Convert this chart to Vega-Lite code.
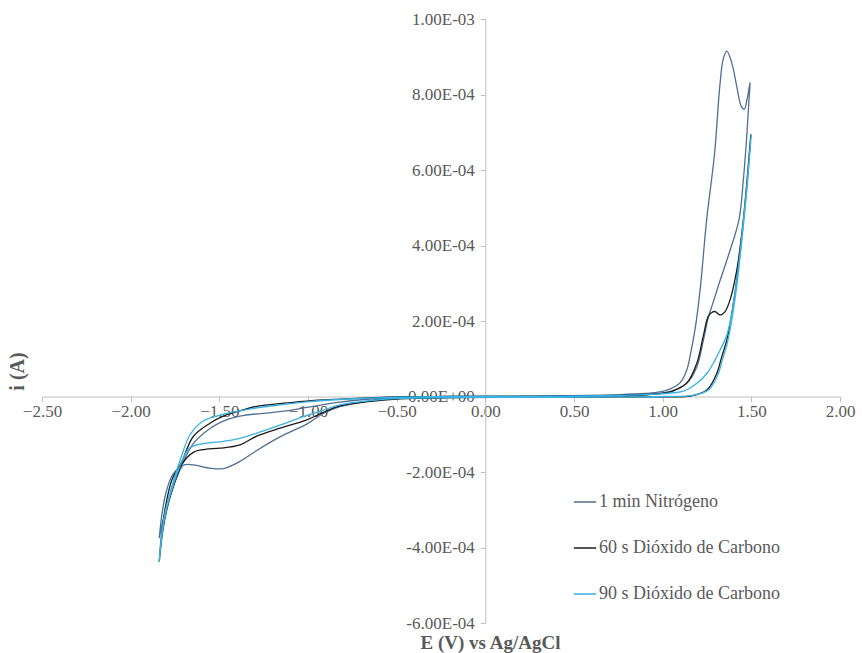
{
  "$schema": "https://vega.github.io/schema/vega-lite/v6.json",
  "width": 798,
  "height": 604,
  "autosize": {"type": "none"},
  "padding": {"left": 42, "top": 19, "right": 22, "bottom": 30},
  "background": "white",
  "config": {
    "view": {"stroke": null},
    "font": "Times New Roman"
  },
  "datasets": {
    "cv": [
      {"s": "1 min Nitrógeno", "k": 1, "E": -1.839, "i": -3.75},
      {"s": "1 min Nitrógeno", "k": 2, "E": -1.823, "i": -3.10},
      {"s": "1 min Nitrógeno", "k": 3, "E": -1.801, "i": -2.55},
      {"s": "1 min Nitrógeno", "k": 4, "E": -1.767, "i": -2.10},
      {"s": "1 min Nitrógeno", "k": 5, "E": -1.711, "i": -1.78},
      {"s": "1 min Nitrógeno", "k": 6, "E": -1.647, "i": -1.25},
      {"s": "1 min Nitrógeno", "k": 7, "E": -1.553, "i": -0.85},
      {"s": "1 min Nitrógeno", "k": 8, "E": -1.478, "i": -0.65},
      {"s": "1 min Nitrógeno", "k": 9, "E": -1.384, "i": -0.52},
      {"s": "1 min Nitrógeno", "k": 10, "E": -1.158, "i": -0.40},
      {"s": "1 min Nitrógeno", "k": 11, "E": -1.007, "i": -0.29},
      {"s": "1 min Nitrógeno", "k": 12, "E": -0.820, "i": -0.15},
      {"s": "1 min Nitrógeno", "k": 13, "E": -0.632, "i": -0.06},
      {"s": "1 min Nitrógeno", "k": 14, "E": -0.481, "i": -0.02},
      {"s": "1 min Nitrógeno", "k": 15, "E": -0.199, "i": 0.00},
      {"s": "1 min Nitrógeno", "k": 16, "E": 0.083, "i": 0.01},
      {"s": "1 min Nitrógeno", "k": 17, "E": 0.421, "i": 0.02},
      {"s": "1 min Nitrógeno", "k": 18, "E": 0.760, "i": 0.05},
      {"s": "1 min Nitrógeno", "k": 19, "E": 0.901, "i": 0.08},
      {"s": "1 min Nitrógeno", "k": 20, "E": 0.985, "i": 0.12},
      {"s": "1 min Nitrógeno", "k": 21, "E": 1.042, "i": 0.20},
      {"s": "1 min Nitrógeno", "k": 22, "E": 1.098, "i": 0.36},
      {"s": "1 min Nitrógeno", "k": 23, "E": 1.136, "i": 0.70},
      {"s": "1 min Nitrógeno", "k": 24, "E": 1.158, "i": 1.15},
      {"s": "1 min Nitrógeno", "k": 25, "E": 1.185, "i": 1.85},
      {"s": "1 min Nitrógeno", "k": 26, "E": 1.213, "i": 2.91},
      {"s": "1 min Nitrógeno", "k": 27, "E": 1.248, "i": 4.68},
      {"s": "1 min Nitrógeno", "k": 28, "E": 1.293, "i": 6.45},
      {"s": "1 min Nitrógeno", "k": 29, "E": 1.322, "i": 8.21},
      {"s": "1 min Nitrógeno", "k": 30, "E": 1.342, "i": 8.95},
      {"s": "1 min Nitrógeno", "k": 31, "E": 1.362, "i": 9.15},
      {"s": "1 min Nitrógeno", "k": 32, "E": 1.390, "i": 8.83},
      {"s": "1 min Nitrógeno", "k": 33, "E": 1.418, "i": 8.21},
      {"s": "1 min Nitrógeno", "k": 34, "E": 1.442, "i": 7.70},
      {"s": "1 min Nitrógeno", "k": 35, "E": 1.460, "i": 7.61},
      {"s": "1 min Nitrógeno", "k": 36, "E": 1.477, "i": 7.90},
      {"s": "1 min Nitrógeno", "k": 37, "E": 1.493, "i": 8.32},
      {"s": "1 min Nitrógeno", "k": 38, "E": 1.486, "i": 7.80},
      {"s": "1 min Nitrógeno", "k": 39, "E": 1.474, "i": 6.88},
      {"s": "1 min Nitrógeno", "k": 40, "E": 1.455, "i": 5.74},
      {"s": "1 min Nitrógeno", "k": 41, "E": 1.430, "i": 4.68},
      {"s": "1 min Nitrógeno", "k": 42, "E": 1.375, "i": 3.80},
      {"s": "1 min Nitrógeno", "k": 43, "E": 1.318, "i": 2.99},
      {"s": "1 min Nitrógeno", "k": 44, "E": 1.277, "i": 2.38},
      {"s": "1 min Nitrógeno", "k": 45, "E": 1.258, "i": 2.11},
      {"s": "1 min Nitrógeno", "k": 46, "E": 1.230, "i": 1.50},
      {"s": "1 min Nitrógeno", "k": 47, "E": 1.193, "i": 0.79},
      {"s": "1 min Nitrógeno", "k": 48, "E": 1.136, "i": 0.35},
      {"s": "1 min Nitrógeno", "k": 49, "E": 1.042, "i": 0.13},
      {"s": "1 min Nitrógeno", "k": 50, "E": 0.901, "i": 0.04},
      {"s": "1 min Nitrógeno", "k": 51, "E": 0.760, "i": 0.01},
      {"s": "1 min Nitrógeno", "k": 52, "E": 0.421, "i": -0.01},
      {"s": "1 min Nitrógeno", "k": 53, "E": 0.083, "i": -0.02},
      {"s": "1 min Nitrógeno", "k": 54, "E": -0.199, "i": -0.03},
      {"s": "1 min Nitrógeno", "k": 55, "E": -0.481, "i": -0.05},
      {"s": "1 min Nitrógeno", "k": 56, "E": -0.632, "i": -0.10},
      {"s": "1 min Nitrógeno", "k": 57, "E": -0.820, "i": -0.27},
      {"s": "1 min Nitrógeno", "k": 58, "E": -0.914, "i": -0.45},
      {"s": "1 min Nitrógeno", "k": 59, "E": -1.007, "i": -0.73},
      {"s": "1 min Nitrógeno", "k": 60, "E": -1.158, "i": -1.07},
      {"s": "1 min Nitrógeno", "k": 61, "E": -1.289, "i": -1.43},
      {"s": "1 min Nitrógeno", "k": 62, "E": -1.384, "i": -1.72},
      {"s": "1 min Nitrógeno", "k": 63, "E": -1.478, "i": -1.91},
      {"s": "1 min Nitrógeno", "k": 64, "E": -1.553, "i": -1.90},
      {"s": "1 min Nitrógeno", "k": 65, "E": -1.647, "i": -1.81},
      {"s": "1 min Nitrógeno", "k": 66, "E": -1.703, "i": -1.82},
      {"s": "1 min Nitrógeno", "k": 67, "E": -1.740, "i": -2.15},
      {"s": "1 min Nitrógeno", "k": 68, "E": -1.772, "i": -2.55},
      {"s": "1 min Nitrógeno", "k": 69, "E": -1.805, "i": -3.05},
      {"s": "1 min Nitrógeno", "k": 70, "E": -1.839, "i": -3.75},

      {"s": "60 s Dióxido de Carbono", "k": 1, "E": -1.839, "i": -4.38},
      {"s": "60 s Dióxido de Carbono", "k": 2, "E": -1.823, "i": -3.55},
      {"s": "60 s Dióxido de Carbono", "k": 3, "E": -1.801, "i": -2.85},
      {"s": "60 s Dióxido de Carbono", "k": 4, "E": -1.767, "i": -2.20},
      {"s": "60 s Dióxido de Carbono", "k": 5, "E": -1.733, "i": -1.90},
      {"s": "60 s Dióxido de Carbono", "k": 6, "E": -1.711, "i": -1.72},
      {"s": "60 s Dióxido de Carbono", "k": 7, "E": -1.647, "i": -1.06},
      {"s": "60 s Dióxido de Carbono", "k": 8, "E": -1.553, "i": -0.71},
      {"s": "60 s Dióxido de Carbono", "k": 9, "E": -1.478, "i": -0.52},
      {"s": "60 s Dióxido de Carbono", "k": 10, "E": -1.384, "i": -0.38},
      {"s": "60 s Dióxido de Carbono", "k": 11, "E": -1.289, "i": -0.26},
      {"s": "60 s Dióxido de Carbono", "k": 12, "E": -1.158, "i": -0.19},
      {"s": "60 s Dióxido de Carbono", "k": 13, "E": -1.007, "i": -0.12},
      {"s": "60 s Dióxido de Carbono", "k": 14, "E": -0.820, "i": -0.07},
      {"s": "60 s Dióxido de Carbono", "k": 15, "E": -0.632, "i": -0.03},
      {"s": "60 s Dióxido de Carbono", "k": 16, "E": -0.481, "i": -0.01},
      {"s": "60 s Dióxido de Carbono", "k": 17, "E": -0.199, "i": 0.00},
      {"s": "60 s Dióxido de Carbono", "k": 18, "E": 0.083, "i": 0.00},
      {"s": "60 s Dióxido de Carbono", "k": 19, "E": 0.421, "i": 0.01},
      {"s": "60 s Dióxido de Carbono", "k": 20, "E": 0.760, "i": 0.03},
      {"s": "60 s Dióxido de Carbono", "k": 21, "E": 0.901, "i": 0.05},
      {"s": "60 s Dióxido de Carbono", "k": 22, "E": 0.985, "i": 0.08},
      {"s": "60 s Dióxido de Carbono", "k": 23, "E": 1.060, "i": 0.15},
      {"s": "60 s Dióxido de Carbono", "k": 24, "E": 1.136, "i": 0.36},
      {"s": "60 s Dióxido de Carbono", "k": 25, "E": 1.193, "i": 0.89},
      {"s": "60 s Dióxido de Carbono", "k": 26, "E": 1.228, "i": 1.58},
      {"s": "60 s Dióxido de Carbono", "k": 27, "E": 1.256, "i": 2.11},
      {"s": "60 s Dióxido de Carbono", "k": 28, "E": 1.275, "i": 2.22},
      {"s": "60 s Dióxido de Carbono", "k": 29, "E": 1.296, "i": 2.25},
      {"s": "60 s Dióxido de Carbono", "k": 30, "E": 1.324, "i": 2.16},
      {"s": "60 s Dióxido de Carbono", "k": 31, "E": 1.352, "i": 2.25},
      {"s": "60 s Dióxido de Carbono", "k": 32, "E": 1.380, "i": 2.56},
      {"s": "60 s Dióxido de Carbono", "k": 33, "E": 1.418, "i": 3.35},
      {"s": "60 s Dióxido de Carbono", "k": 34, "E": 1.437, "i": 3.97},
      {"s": "60 s Dióxido de Carbono", "k": 35, "E": 1.455, "i": 4.68},
      {"s": "60 s Dióxido de Carbono", "k": 36, "E": 1.476, "i": 5.74},
      {"s": "60 s Dióxido de Carbono", "k": 37, "E": 1.497, "i": 6.93},
      {"s": "60 s Dióxido de Carbono", "k": 38, "E": 1.474, "i": 5.56},
      {"s": "60 s Dióxido de Carbono", "k": 39, "E": 1.446, "i": 4.23},
      {"s": "60 s Dióxido de Carbono", "k": 40, "E": 1.418, "i": 3.09},
      {"s": "60 s Dióxido de Carbono", "k": 41, "E": 1.390, "i": 2.20},
      {"s": "60 s Dióxido de Carbono", "k": 42, "E": 1.362, "i": 1.50},
      {"s": "60 s Dióxido de Carbono", "k": 43, "E": 1.333, "i": 1.05},
      {"s": "60 s Dióxido de Carbono", "k": 44, "E": 1.305, "i": 0.61},
      {"s": "60 s Dióxido de Carbono", "k": 45, "E": 1.249, "i": 0.17},
      {"s": "60 s Dióxido de Carbono", "k": 46, "E": 1.155, "i": 0.01},
      {"s": "60 s Dióxido de Carbono", "k": 47, "E": 1.023, "i": -0.01},
      {"s": "60 s Dióxido de Carbono", "k": 48, "E": 0.760, "i": -0.01},
      {"s": "60 s Dióxido de Carbono", "k": 49, "E": 0.421, "i": -0.02},
      {"s": "60 s Dióxido de Carbono", "k": 50, "E": 0.083, "i": -0.02},
      {"s": "60 s Dióxido de Carbono", "k": 51, "E": -0.199, "i": -0.03},
      {"s": "60 s Dióxido de Carbono", "k": 52, "E": -0.481, "i": -0.06},
      {"s": "60 s Dióxido de Carbono", "k": 53, "E": -0.632, "i": -0.12},
      {"s": "60 s Dióxido de Carbono", "k": 54, "E": -0.820, "i": -0.25},
      {"s": "60 s Dióxido de Carbono", "k": 55, "E": -0.913, "i": -0.42},
      {"s": "60 s Dióxido de Carbono", "k": 56, "E": -1.007, "i": -0.62},
      {"s": "60 s Dióxido de Carbono", "k": 57, "E": -1.158, "i": -0.84},
      {"s": "60 s Dióxido de Carbono", "k": 58, "E": -1.289, "i": -1.05},
      {"s": "60 s Dióxido de Carbono", "k": 59, "E": -1.384, "i": -1.28},
      {"s": "60 s Dióxido de Carbono", "k": 60, "E": -1.496, "i": -1.37},
      {"s": "60 s Dióxido de Carbono", "k": 61, "E": -1.580, "i": -1.40},
      {"s": "60 s Dióxido de Carbono", "k": 62, "E": -1.647, "i": -1.48},
      {"s": "60 s Dióxido de Carbono", "k": 63, "E": -1.711, "i": -1.80},
      {"s": "60 s Dióxido de Carbono", "k": 64, "E": -1.767, "i": -2.50},
      {"s": "60 s Dióxido de Carbono", "k": 65, "E": -1.801, "i": -3.10},
      {"s": "60 s Dióxido de Carbono", "k": 66, "E": -1.823, "i": -3.70},
      {"s": "60 s Dióxido de Carbono", "k": 67, "E": -1.839, "i": -4.38},

      {"s": "90 s Dióxido de Carbono", "k": 1, "E": -1.839, "i": -4.38},
      {"s": "90 s Dióxido de Carbono", "k": 2, "E": -1.823, "i": -3.55},
      {"s": "90 s Dióxido de Carbono", "k": 3, "E": -1.801, "i": -2.95},
      {"s": "90 s Dióxido de Carbono", "k": 4, "E": -1.778, "i": -2.55},
      {"s": "90 s Dióxido de Carbono", "k": 5, "E": -1.750, "i": -2.10},
      {"s": "90 s Dióxido de Carbono", "k": 6, "E": -1.722, "i": -1.70},
      {"s": "90 s Dióxido de Carbono", "k": 7, "E": -1.666, "i": -1.02},
      {"s": "90 s Dióxido de Carbono", "k": 8, "E": -1.591, "i": -0.65},
      {"s": "90 s Dióxido de Carbono", "k": 9, "E": -1.478, "i": -0.47},
      {"s": "90 s Dióxido de Carbono", "k": 10, "E": -1.327, "i": -0.33},
      {"s": "90 s Dióxido de Carbono", "k": 11, "E": -1.158, "i": -0.22},
      {"s": "90 s Dióxido de Carbono", "k": 12, "E": -1.007, "i": -0.14},
      {"s": "90 s Dióxido de Carbono", "k": 13, "E": -0.820, "i": -0.08},
      {"s": "90 s Dióxido de Carbono", "k": 14, "E": -0.632, "i": -0.04},
      {"s": "90 s Dióxido de Carbono", "k": 15, "E": -0.481, "i": -0.02},
      {"s": "90 s Dióxido de Carbono", "k": 16, "E": -0.199, "i": 0.00},
      {"s": "90 s Dióxido de Carbono", "k": 17, "E": 0.083, "i": 0.00},
      {"s": "90 s Dióxido de Carbono", "k": 18, "E": 0.421, "i": 0.01},
      {"s": "90 s Dióxido de Carbono", "k": 19, "E": 0.760, "i": 0.03},
      {"s": "90 s Dióxido de Carbono", "k": 20, "E": 0.901, "i": 0.05},
      {"s": "90 s Dióxido de Carbono", "k": 21, "E": 0.985, "i": 0.07},
      {"s": "90 s Dióxido de Carbono", "k": 22, "E": 1.117, "i": 0.14},
      {"s": "90 s Dióxido de Carbono", "k": 23, "E": 1.193, "i": 0.35},
      {"s": "90 s Dióxido de Carbono", "k": 24, "E": 1.249, "i": 0.61},
      {"s": "90 s Dióxido de Carbono", "k": 25, "E": 1.296, "i": 0.97},
      {"s": "90 s Dióxido de Carbono", "k": 26, "E": 1.324, "i": 1.23},
      {"s": "90 s Dióxido de Carbono", "k": 27, "E": 1.362, "i": 1.63},
      {"s": "90 s Dióxido de Carbono", "k": 28, "E": 1.390, "i": 2.21},
      {"s": "90 s Dióxido de Carbono", "k": 29, "E": 1.418, "i": 3.09},
      {"s": "90 s Dióxido de Carbono", "k": 30, "E": 1.446, "i": 4.23},
      {"s": "90 s Dióxido de Carbono", "k": 31, "E": 1.474, "i": 5.56},
      {"s": "90 s Dióxido de Carbono", "k": 32, "E": 1.499, "i": 6.93},
      {"s": "90 s Dióxido de Carbono", "k": 33, "E": 1.477, "i": 5.60},
      {"s": "90 s Dióxido de Carbono", "k": 34, "E": 1.449, "i": 4.25},
      {"s": "90 s Dióxido de Carbono", "k": 35, "E": 1.421, "i": 3.05},
      {"s": "90 s Dióxido de Carbono", "k": 36, "E": 1.394, "i": 2.15},
      {"s": "90 s Dióxido de Carbono", "k": 37, "E": 1.366, "i": 1.45},
      {"s": "90 s Dióxido de Carbono", "k": 38, "E": 1.337, "i": 0.98},
      {"s": "90 s Dióxido de Carbono", "k": 39, "E": 1.309, "i": 0.55},
      {"s": "90 s Dióxido de Carbono", "k": 40, "E": 1.260, "i": 0.18},
      {"s": "90 s Dióxido de Carbono", "k": 41, "E": 1.170, "i": 0.03},
      {"s": "90 s Dióxido de Carbono", "k": 42, "E": 1.030, "i": 0.00},
      {"s": "90 s Dióxido de Carbono", "k": 43, "E": 0.760, "i": -0.01},
      {"s": "90 s Dióxido de Carbono", "k": 44, "E": 0.421, "i": -0.02},
      {"s": "90 s Dióxido de Carbono", "k": 45, "E": 0.083, "i": -0.02},
      {"s": "90 s Dióxido de Carbono", "k": 46, "E": -0.199, "i": -0.03},
      {"s": "90 s Dióxido de Carbono", "k": 47, "E": -0.481, "i": -0.05},
      {"s": "90 s Dióxido de Carbono", "k": 48, "E": -0.632, "i": -0.10},
      {"s": "90 s Dióxido de Carbono", "k": 49, "E": -0.820, "i": -0.22},
      {"s": "90 s Dióxido de Carbono", "k": 50, "E": -0.913, "i": -0.36},
      {"s": "90 s Dióxido de Carbono", "k": 51, "E": -1.007, "i": -0.50},
      {"s": "90 s Dióxido de Carbono", "k": 52, "E": -1.158, "i": -0.76},
      {"s": "90 s Dióxido de Carbono", "k": 53, "E": -1.289, "i": -0.97},
      {"s": "90 s Dióxido de Carbono", "k": 54, "E": -1.384, "i": -1.11},
      {"s": "90 s Dióxido de Carbono", "k": 55, "E": -1.496, "i": -1.20},
      {"s": "90 s Dióxido de Carbono", "k": 56, "E": -1.580, "i": -1.24},
      {"s": "90 s Dióxido de Carbono", "k": 57, "E": -1.666, "i": -1.36},
      {"s": "90 s Dióxido de Carbono", "k": 58, "E": -1.711, "i": -1.72},
      {"s": "90 s Dióxido de Carbono", "k": 59, "E": -1.767, "i": -2.45},
      {"s": "90 s Dióxido de Carbono", "k": 60, "E": -1.801, "i": -3.05},
      {"s": "90 s Dióxido de Carbono", "k": 61, "E": -1.823, "i": -3.65},
      {"s": "90 s Dióxido de Carbono", "k": 62, "E": -1.839, "i": -4.38}
    ]
  },
  "data": {"name": "cv"},
  "mark": {"type": "line", "strokeWidth": 1.3, "interpolate": "catmull-rom"},
  "encoding": {
    "x": {
      "field": "E",
      "type": "quantitative",
      "scale": {"domain": [-2.5, 2.0], "nice": false, "zero": false},
      "axis": {
        "values": [-2.5, -2.0, -1.5, -1.0, -0.5, 0, 0.5, 1.0, 1.5, 2.0],
        "format": ".2f",
        "offset": -226.5,
        "grid": false,
        "domainColor": "#bfbfbf",
        "tickColor": "#bfbfbf",
        "tickSize": 5,
        "labelFont": "Times New Roman",
        "labelFontSize": 17,
        "labelColor": "#595959",
        "labelPadding": 2,
        "labelFlush": false,
        "title": "E (V) vs Ag/AgCl",
        "titleFont": "Times New Roman",
        "titleFontSize": 19,
        "titleFontWeight": "bold",
        "titleColor": "#595959",
        "titleX": 448,
        "titleY": 246,
        "titleBaseline": "middle"
      }
    },
    "y": {
      "field": "i",
      "type": "quantitative",
      "scale": {"domain": [-6, 10], "nice": false, "zero": false},
      "axis": {
        "values": [-6, -4, -2, 0, 2, 4, 6, 8, 10],
        "labelExpr": "datum.value == 0 ? '0.00E+00' : (datum.value < 0 ? '-' : '') + (abs(datum.value) >= 10 ? format(abs(datum.value) / 10, '.2f') + 'E-03' : format(abs(datum.value), '.2f') + 'E-04')",
        "offset": -443.3,
        "grid": false,
        "domainColor": "#bfbfbf",
        "tickColor": "#bfbfbf",
        "tickSize": 5,
        "labelFont": "Times New Roman",
        "labelFontSize": 17,
        "labelColor": "#595959",
        "labelPadding": 6,
        "labelFlush": false,
        "title": "i (A)",
        "titleFont": "Times New Roman",
        "titleFontSize": 20,
        "titleFontWeight": "bold",
        "titleColor": "#595959",
        "titleX": -468,
        "titleY": 352,
        "titleAngle": -90,
        "titleAlign": "center",
        "titleBaseline": "middle"
      }
    },
    "order": {"field": "k", "type": "quantitative"},
    "color": {
      "field": "s",
      "type": "nominal",
      "scale": {
        "domain": ["1 min Nitrógeno", "60 s Dióxido de Carbono", "90 s Dióxido de Carbono"],
        "range": ["#4f6f95", "#1b1b1b", "#35b2e6"]
      },
      "legend": {
        "title": null,
        "orient": "none",
        "legendX": 531,
        "legendY": 471,
        "symbolType": "stroke",
        "symbolSize": 500,
        "symbolStrokeWidth": 1.5,
        "labelFont": "Times New Roman",
        "labelFontSize": 18,
        "labelColor": "#595959",
        "labelOffset": 2,
        "labelLimit": 400,
        "rowPadding": 25
      }
    }
  }
}
